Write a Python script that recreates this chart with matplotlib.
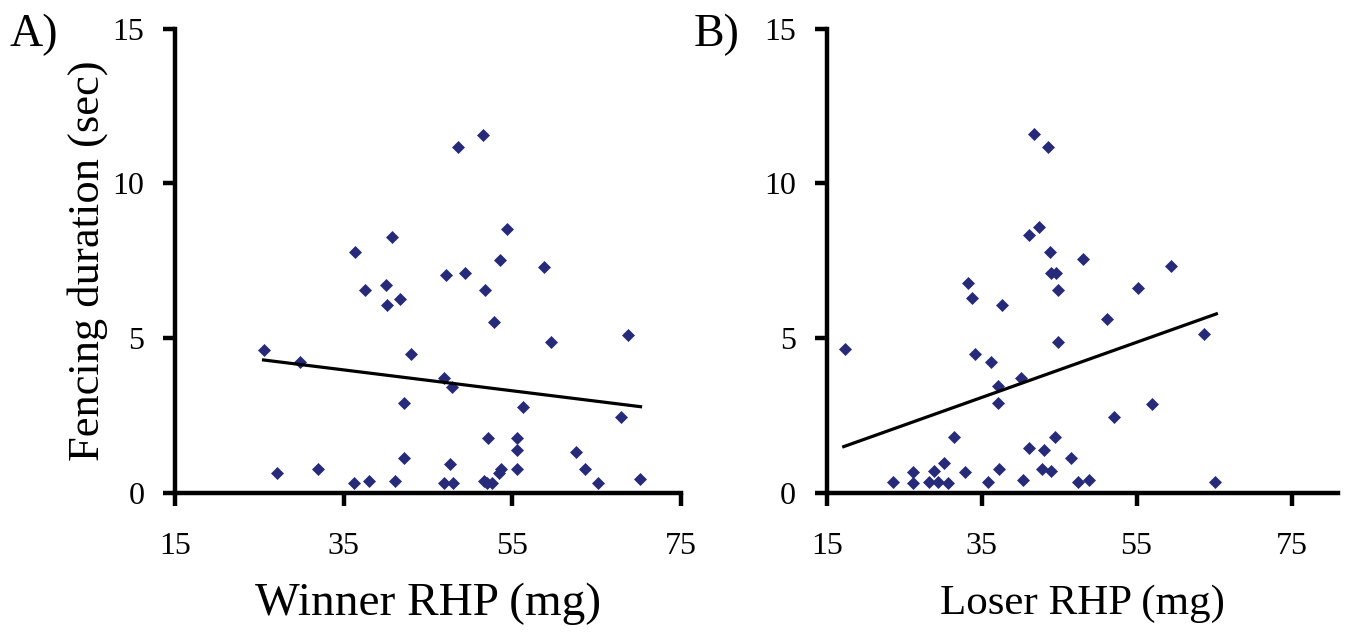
import numpy as np
import matplotlib
matplotlib.use('Agg')
import matplotlib.pyplot as plt

plt.rcParams['font.family'] = ['Liberation Serif', 'DejaVu Serif']

# --- winner RHP (mg) vs fencing duration (sec)
winner_rhp = [51.5, 48.5, 54.4, 40.7, 36.4, 53.5, 58.7, 47.1, 49.4, 37.5,
              40.0, 51.7, 41.7, 40.1, 52.8, 25.6, 29.8, 43.0, 59.6, 68.7,
              46.9, 47.9, 42.2, 56.3, 67.9, 52.1, 55.6, 55.6, 62.5, 42.2,
              47.6, 27.1, 32.0, 53.7, 53.4, 55.5, 63.6, 36.2, 38.0, 41.1,
              46.9, 48.0, 51.6, 52.0, 52.6, 65.2, 70.1]
winner_fence = [11.55, 11.16, 8.53, 8.27, 7.78, 7.51, 7.31, 7.04, 7.09, 6.55,
                6.71, 6.54, 6.27, 6.07, 5.53, 4.61, 4.23, 4.47, 4.88, 5.10,
                3.72, 3.41, 2.89, 2.78, 2.46, 1.78, 1.78, 1.38, 1.33, 1.13,
                0.92, 0.65, 0.76, 0.76, 0.63, 0.76, 0.76, 0.32, 0.38, 0.38,
                0.32, 0.32, 0.38, 0.32, 0.32, 0.32, 0.43]
winner_trend_x = [25.5, 70.2]
winner_trend_y = [4.29, 2.78]

# --- loser RHP (mg) vs fencing duration (sec)
loser_rhp = [41.7, 43.6, 42.4, 41.1, 43.8, 48.1, 59.5, 43.9, 44.6, 33.3,
             55.2, 44.8, 33.7, 37.6, 51.2, 17.3, 63.7, 34.1, 36.2, 44.8,
             40.1, 37.1, 37.1, 52.1, 57.0, 31.4, 41.1, 43.0, 44.5, 46.5,
             30.1, 28.9, 26.1, 32.8, 37.2, 42.8, 44.0, 23.5, 26.2, 28.2,
             29.4, 30.6, 35.8, 40.3, 47.5, 48.8, 65.1]
loser_fence = [11.60, 11.18, 8.58, 8.33, 7.79, 7.55, 7.33, 7.09, 7.09, 6.79,
               6.61, 6.55, 6.30, 6.08, 5.60, 4.64, 5.13, 4.47, 4.23, 4.88,
               3.70, 3.45, 2.91, 2.46, 2.87, 1.80, 1.43, 1.37, 1.80, 1.13,
               0.95, 0.71, 0.68, 0.66, 0.78, 0.78, 0.71, 0.36, 0.30, 0.36,
               0.36, 0.30, 0.36, 0.41, 0.36, 0.41, 0.36]
loser_trend_x = [17.2, 65.3]
loser_trend_y = [1.49, 5.78]

x_ticks = [15, 35, 55, 75]
y_ticks = [0, 5, 10, 15]

W, H = 1348, 635
fig = plt.figure(figsize=(W / 100, H / 100), dpi=100)


def px_axes(left, right, top, bottom):
    return fig.add_axes([left / W, 1 - bottom / H, (right - left) / W,
                         (bottom - top) / H])


def style(ax, xmax):
    ax.set_xlim(15, xmax)
    ax.set_ylim(0, 15)
    ax.set_xticks(x_ticks)
    ax.set_yticks(y_ticks)
    for s in ['top', 'right']:
        ax.spines[s].set_visible(False)
    for s in ['left', 'bottom']:
        ax.spines[s].set_linewidth(3.2)
    ax.tick_params(direction='out', length=9, width=3.2, labelsize=23)
    ax.tick_params(axis='x', pad=19)
    ax.tick_params(axis='y', pad=13)
    ax.patch.set_alpha(0)


dot_color = '#262a78'

axA = px_axes(175, 681, 28.6, 492.7)
style(axA, 75)
axA.plot(winner_rhp, winner_fence, 'D', color=dot_color, ms=6.6,
         mec=dot_color, mew=0.5, clip_on=False)
axA.plot(winner_trend_x, winner_trend_y, color='black', lw=2.3)
axA.set_xlabel('Winner RHP (mg)', fontsize=34, labelpad=16)
axA.set_ylabel('Fencing duration (sec)', fontsize=32, labelpad=3)

axB = px_axes(826.7, 1338, 28.6, 492.7)
style(axB, 81)
axB.plot(loser_rhp, loser_fence, 'D', color=dot_color, ms=6.6,
         mec=dot_color, mew=0.5, clip_on=False)
axB.plot(loser_trend_x, loser_trend_y, color='black', lw=2.3)
axB.set_xlabel('Loser RHP (mg)', fontsize=31, labelpad=17)

fig.text(9 / W, 1 - 46 / H, 'A)', fontsize=33, va='baseline')
fig.text(694 / W, 1 - 46 / H, 'B)', fontsize=33, va='baseline')

fig.savefig('out.png', dpi=100)
